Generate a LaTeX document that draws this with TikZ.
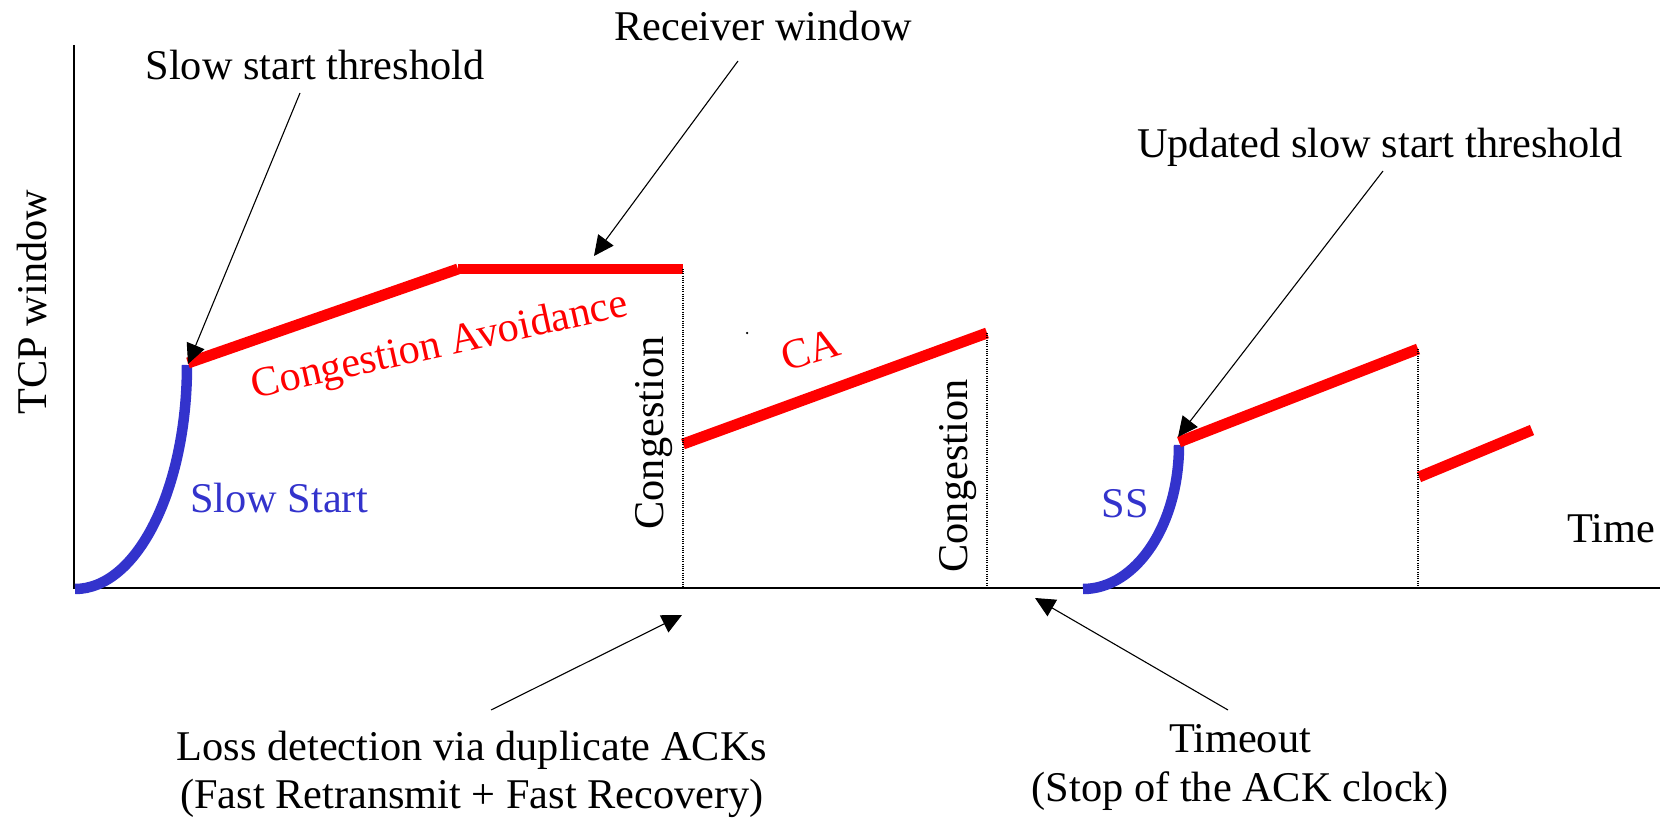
\documentclass[tikz,border=0pt]{standalone}
\usepackage{fontspec}
\setmainfont{Liberation Serif}
\usetikzlibrary{arrows.meta}
\definecolor{ssblue}{RGB}{51,51,204}
\begin{document}
\begin{tikzpicture}[x=0.02cm,y=0.02cm,
  txt/.style={inner sep=0pt, font=\fontsize{24.1pt}{29pt}\selectfont, anchor=base},
  redseg/.style={draw=red, line width=0.22cm, line cap=butt},
  blueseg/.style={draw=ssblue, line width=0.21cm, line cap=butt},
  axisline/.style={line width=0.045cm},
  guide/.style={line width=0.025cm, dash pattern=on 0.02cm off 0.025cm},
  pointer/.style={line width=0.022cm, -{Triangle[length=0.4cm,width=0.38cm]}}
]
\useasboundingbox (0,0) rectangle (1668,-821);

% axes
\coordinate (ytop) at (74,-45);
\coordinate (orig) at (74,-588);
\coordinate (xend) at (1660,-588);
\draw[axisline] (ytop) -- (orig) -- (xend);

% curves and segments
\coordinate (b1s) at (75,-589);
\coordinate (b1e) at (187,-365);
\draw[blueseg] (b1s) .. controls (137,-589) and (187,-489) .. (b1e);
\coordinate (b2s) at (1083,-589);
\coordinate (b2e) at (1179,-445);
\draw[blueseg] (b2s) .. controls (1136,-589) and (1179,-525) .. (b2e);

\coordinate (r1a) at (188,-363);
\coordinate (r1b) at (458,-269);
\coordinate (r1c) at (683,-269);
\draw[redseg] (r1a) -- (r1b);
\draw[redseg] (r1b) -- (r1c);
\coordinate (r2a) at (683,-444);
\coordinate (r2b) at (987,-333);
\draw[redseg] (r2a) -- (r2b);
\coordinate (r3a) at (1179,-442);
\coordinate (r3b) at (1418,-349);
\draw[redseg] (r3a) -- (r3b);
\coordinate (r4a) at (1419,-477);
\coordinate (r4b) at (1532,-430);
\draw[redseg] (r4a) -- (r4b);

% dotted guides
\coordinate (d1) at (683,-588);
\coordinate (d2) at (987,-588);
\coordinate (d3) at (1418,-588);
\draw[guide] (r1c) -- (d1);
\draw[guide] (r2b) -- (d2);
\draw[guide] (r3b) -- (d3);

% stray dot
\fill (747,-333) circle[radius=0.025cm];

% labels
\node[txt, rotate=90] (ylab) at (47,-302) {TCP window};
\node[txt] (tlab) at (1611,-542) {Time};
\node[txt] (sst) at (315,-80) {Slow start threshold};
\node[txt] (rw) at (763,-41) {Receiver window};
\node[txt] (usst) at (1380,-157) {Updated slow start threshold};
\node[txt] (loss1) at (472,-760) {Loss detection via duplicate ACKs};
\node[txt] (loss2) at (472,-808) {(Fast Retransmit + Fast Recovery)};
\node[txt] (to1) at (1240,-752) {Timeout};
\node[txt] (to2) at (1240,-801) {(Stop of the ACK clock)};
\node[txt, text=ssblue] (slst) at (279,-512) {Slow Start};
\node[txt, text=ssblue] (ss) at (1125,-517) {SS};
\node[txt, rotate=90] (cg1) at (663,-433) {Congestion};
\node[txt, rotate=90] (cg2) at (967,-476) {Congestion};
\node[txt, text=red, rotate=12.5, anchor=center] (cav) at (440,-347) {Congestion Avoidance};
\node[txt, text=red, rotate=17, anchor=center] (ca) at (811,-350) {CA};

% pointers
\coordinate (a1s) at (300,-93);
\coordinate (a1t) at (188,-364);
\coordinate (a2s) at (738,-61);
\coordinate (a2t) at (594,-256);
\coordinate (a3s) at (1383,-171);
\coordinate (a3t) at (1178,-437);
\coordinate (a4s) at (491,-710);
\coordinate (a4t) at (682,-615);
\coordinate (a5s) at (1228,-710);
\coordinate (a5t) at (1035,-598);
\draw[pointer] (a1s) -- (a1t);
\draw[pointer] (a2s) -- (a2t);
\draw[pointer] (a3s) -- (a3t);
\draw[pointer] (a4s) -- (a4t);
\draw[pointer] (a5s) -- (a5t);
\end{tikzpicture}
\end{document}
